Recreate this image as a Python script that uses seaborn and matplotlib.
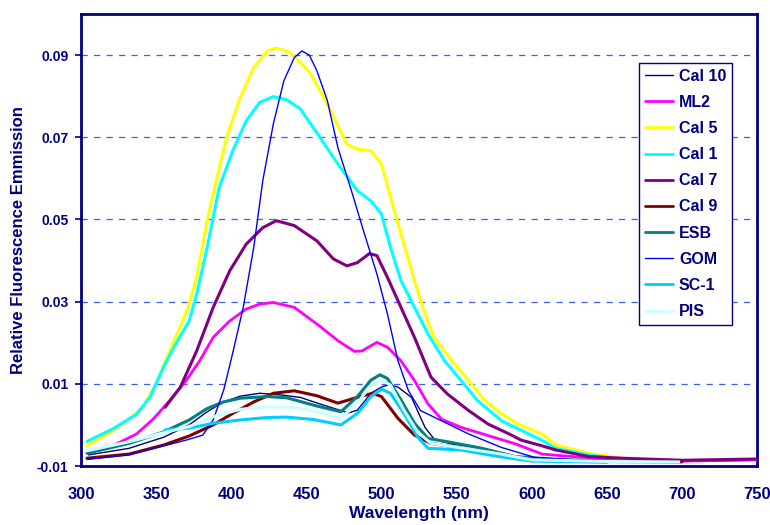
import matplotlib
matplotlib.use("Agg")
import matplotlib.pyplot as plt
import seaborn as sns
import pandas as pd

# ---------------- data ----------------
cal10_x = [305, 332, 355, 372, 384, 395, 406, 419, 433, 446, 459, 473, 478, 484, 493, 500, 505, 511, 520, 529, 535, 546, 558, 578, 600, 630, 660, 700, 750]
cal10_y = [-0.0073, -0.0057, -0.0030, 0.0000, 0.0032, 0.0056, 0.0070, 0.0077, 0.0073, 0.0067, 0.0051, 0.0035, 0.0029, 0.0036, 0.0077, 0.0092, 0.0098, 0.0092, 0.0067, -0.0006, -0.0034, -0.0046, -0.0052, -0.0069, -0.0082, -0.0086, -0.0088, -0.0089, -0.0086]

ml2_x = [305, 321, 337, 348, 359, 370, 379, 388, 399, 410, 419, 428, 442, 459, 471, 482, 487, 497, 504, 513, 522, 531, 540, 553, 571, 589, 607, 630, 660, 700, 750]
ml2_y = [-0.0063, -0.0051, -0.0022, 0.0014, 0.0059, 0.0108, 0.0156, 0.0213, 0.0253, 0.0282, 0.0294, 0.0298, 0.0286, 0.0240, 0.0205, 0.0179, 0.0180, 0.0201, 0.0189, 0.0156, 0.0108, 0.0051, 0.0014, -0.0006, -0.0026, -0.0046, -0.0071, -0.0078, -0.0084, -0.0088, -0.0085]

cal5_x = [304, 321, 332, 341, 350, 359, 366, 372, 377, 384, 390, 397, 406, 415, 424, 430, 439, 446, 453, 464, 477, 484, 493, 500, 506, 513, 522, 529, 535, 547, 558, 569, 580, 591, 607, 616, 638, 660, 680]
cal5_y = [-0.0051, -0.0014, 0.0014, 0.0043, 0.0100, 0.0180, 0.0238, 0.0294, 0.0360, 0.0497, 0.0594, 0.0700, 0.0797, 0.0870, 0.0910, 0.0917, 0.0907, 0.0882, 0.0854, 0.0780, 0.0683, 0.0671, 0.0667, 0.0635, 0.0555, 0.0465, 0.0351, 0.0270, 0.0213, 0.0156, 0.0108, 0.0059, 0.0027, 0.0002, -0.0022, -0.0049, -0.0069, -0.0081, -0.0085]

cal1_x = [304, 321, 337, 346, 355, 363, 372, 377, 384, 392, 401, 410, 419, 428, 437, 446, 459, 471, 484, 493, 500, 506, 513, 522, 531, 542, 553, 564, 580, 598, 607, 616, 638, 660, 680]
cal1_y = [-0.0040, -0.0010, 0.0026, 0.0068, 0.0141, 0.0197, 0.0253, 0.0318, 0.0432, 0.0578, 0.0667, 0.0740, 0.0785, 0.0799, 0.0791, 0.0769, 0.0700, 0.0635, 0.0570, 0.0545, 0.0513, 0.0432, 0.0351, 0.0286, 0.0221, 0.0156, 0.0108, 0.0059, 0.0010, -0.0022, -0.0038, -0.0057, -0.0073, -0.0084, -0.0087]

cal7_x = [356, 366, 377, 388, 399, 410, 421, 430, 442, 457, 468, 477, 484, 492, 497, 504, 513, 522, 533, 544, 558, 571, 585, 593, 607, 616, 638, 660, 700, 750]
cal7_y = [0.0043, 0.0091, 0.0180, 0.0286, 0.0375, 0.0440, 0.0480, 0.0497, 0.0485, 0.0448, 0.0404, 0.0387, 0.0395, 0.0417, 0.0412, 0.0359, 0.0286, 0.0213, 0.0116, 0.0075, 0.0035, 0.0002, -0.0022, -0.0037, -0.0051, -0.0061, -0.0077, -0.0081, -0.0086, -0.0083]

cal9_x = [304, 332, 355, 372, 388, 401, 415, 428, 442, 457, 471, 482, 494, 500, 511, 522, 533, 555, 578, 600, 640, 700]
cal9_y = [-0.0081, -0.0071, -0.0049, -0.0027, 0.0000, 0.0028, 0.0056, 0.0077, 0.0083, 0.0071, 0.0053, 0.0065, 0.0077, 0.0069, 0.0016, -0.0025, -0.0045, -0.0057, -0.0073, -0.0085, -0.0089, -0.0090]

esb_x = [304, 332, 355, 372, 384, 395, 406, 424, 437, 457, 473, 484, 493, 499, 504, 513, 522, 531, 544, 567, 589, 620, 660]
esb_y = [-0.0069, -0.0045, -0.0017, 0.0012, 0.0040, 0.0056, 0.0065, 0.0069, 0.0066, 0.0046, 0.0032, 0.0069, 0.0109, 0.0122, 0.0113, 0.0061, 0.0004, -0.0033, -0.0041, -0.0057, -0.0077, -0.0085, -0.0088]

gom_x = [304, 332, 355, 370, 381, 388, 395, 401, 408, 415, 421, 428, 435, 442, 447, 452, 457, 464, 471, 480, 488, 497, 504, 511, 518, 526, 540, 558, 580, 602, 640, 700]
gom_y = [-0.0084, -0.0073, -0.0051, -0.0037, -0.0025, 0.0012, 0.0085, 0.0175, 0.0286, 0.0432, 0.0594, 0.0732, 0.0837, 0.0894, 0.0910, 0.0900, 0.0862, 0.0789, 0.0675, 0.0570, 0.0473, 0.0367, 0.0270, 0.0156, 0.0083, 0.0035, 0.0010, -0.0022, -0.0055, -0.0079, -0.0087, -0.0089]

sc1_x = [356, 372, 388, 406, 424, 437, 455, 473, 484, 493, 500, 506, 515, 524, 531, 553, 578, 600, 650]
sc1_y = [-0.0012, -0.0008, 0.0004, 0.0012, 0.0018, 0.0019, 0.0013, 0.0000, 0.0028, 0.0069, 0.0087, 0.0077, 0.0028, -0.0029, -0.0057, -0.0061, -0.0077, -0.0088, -0.0091]

pis_x = [304, 332, 355, 372, 388, 406, 424, 441, 457, 473, 484, 493, 500, 506, 515, 524, 533, 555, 578, 600, 650, 698]
pis_y = [-0.0063, -0.0041, -0.0019, -0.0004, 0.0020, 0.0038, 0.0044, 0.0043, 0.0032, 0.0016, 0.0053, 0.0097, 0.0109, 0.0097, 0.0036, -0.0017, -0.0045, -0.0057, -0.0070, -0.0085, -0.0089, -0.0090]

series_names = ["Cal 10", "ML2", "Cal 5", "Cal 1", "Cal 7", "Cal 9", "ESB", "GOM", "SC-1", "PIS"]
series_x = [cal10_x, ml2_x, cal5_x, cal1_x, cal7_x, cal9_x, esb_x, gom_x, sc1_x, pis_x]
series_y = [cal10_y, ml2_y, cal5_y, cal1_y, cal7_y, cal9_y, esb_y, gom_y, sc1_y, pis_y]

x_ticks = [300, 350, 400, 450, 500, 550, 600, 650, 700, 750]
y_ticks = [-0.01, 0.01, 0.03, 0.05, 0.07, 0.09]
y_tick_labels = ["-0.01", "0.01", "0.03", "0.05", "0.07", "0.09"]

# ---------------- styles ----------------
colors = {"Cal 10": "#000080", "ML2": "#FF00FF", "Cal 5": "#FFFF00", "Cal 1": "#00FFFF",
          "Cal 7": "#800080", "Cal 9": "#800000", "ESB": "#008080", "GOM": "#0000FF",
          "SC-1": "#00CCFF", "PIS": "#CCFFFF"}
widths = {"Cal 10": 1.0, "ML2": 2.0, "Cal 5": 2.2, "Cal 1": 2.2, "Cal 7": 2.2,
          "Cal 9": 2.2, "ESB": 2.2, "GOM": 1.0, "SC-1": 2.2, "PIS": 2.2}

navy = "#000080"
sns.set_theme(style="white")
plt.rcParams["font.family"] = ["Liberation Sans", "DejaVu Sans"]
plt.rcParams["font.weight"] = "bold"

frames = []
for name, xs, ys in zip(series_names, series_x, series_y):
    frames.append(pd.DataFrame({"Wavelength": xs, "Emission": ys, "Sample": name}))
df = pd.concat(frames, ignore_index=True)

fig = plt.figure(figsize=(7.7, 5.25), dpi=100)
ax = fig.add_axes([81 / 770, 1 - 466 / 525, (757 - 81) / 770, (466 - 14) / 525])

for name in series_names:
    sub = df[df["Sample"] == name]
    sns.lineplot(data=sub, x="Wavelength", y="Emission", ax=ax, color=colors[name],
                 linewidth=widths[name], label=name, sort=False, estimator=None, zorder=3)

ax.set_xlim(300, 750)
ax.set_ylim(-0.01, 0.10)
ax.set_xticks(x_ticks)
ax.set_xticklabels([str(t) for t in x_ticks])
ax.set_yticks(y_ticks)
ax.set_yticklabels(y_tick_labels)

for yv in y_ticks[1:]:
    ax.axhline(yv, color="#3F5FF0", linestyle=(0, (5, 5)), linewidth=0.9, zorder=1)

ax.tick_params(axis="x", length=0, pad=15, labelsize=12, labelcolor=navy)
ax.tick_params(axis="y", length=4, width=1.2, color=navy, direction="out", pad=5,
               labelsize=10, labelcolor=navy, left=True)
for lab in ax.get_xticklabels() + ax.get_yticklabels():
    lab.set_fontweight("bold")

for sp in ax.spines.values():
    sp.set_visible(True)
    sp.set_color(navy)
    sp.set_linewidth(2.0)

ax.set_ylabel("Relative Fluorescence Emmission", fontsize=12, fontweight="bold", color=navy)
ax.yaxis.label.set_va("center")
ax.yaxis.set_label_coords(-0.093, 0.5)
ax.set_xlabel("Wavelength (nm)", fontsize=12.5, fontweight="bold", color=navy)
ax.xaxis.label.set_va("baseline")
ax.xaxis.set_label_coords(0.5, -0.1155)

leg = ax.legend(loc="upper left", bbox_to_anchor=((639 - 81) / 676, (466 - 63) / 452),
                borderaxespad=0, frameon=True, fancybox=False, shadow=False,
                fontsize=11.5, labelspacing=0.70, handlelength=1.8, handletextpad=0.35,
                borderpad=0.35, labelcolor=navy)
leg.get_frame().set_edgecolor(navy)
leg.get_frame().set_linewidth(1.0)
leg.get_frame().set_alpha(1)
for t in leg.get_texts():
    t.set_fontweight("bold")
for h, name in zip(leg.get_lines(), series_names):
    h.set_linewidth(2.0 if widths[name] > 1.5 else 1.0)

fig.savefig("out.png", dpi=100)
